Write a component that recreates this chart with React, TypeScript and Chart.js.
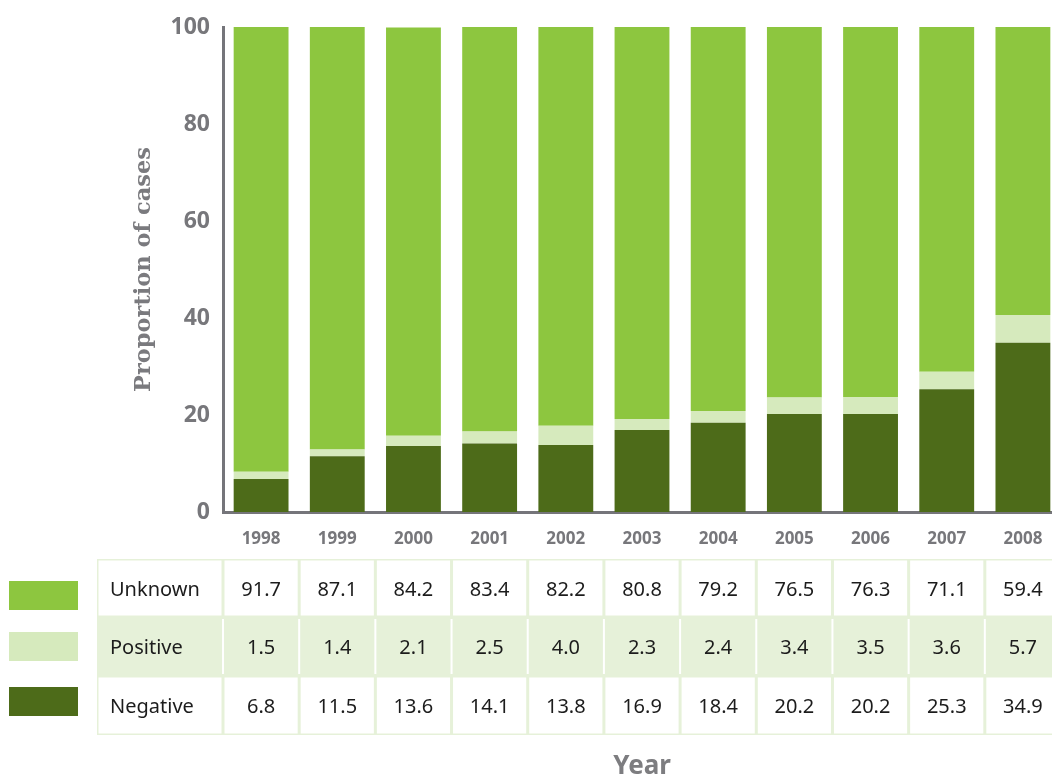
import React, { useEffect, useRef } from "react";
import { Chart, registerables } from "chart.js";

Chart.register(...registerables);

const years = ["1998", "1999", "2000", "2001", "2002", "2003", "2004", "2005", "2006", "2007", "2008"];
const negative = [6.8, 11.5, 13.6, 14.1, 13.8, 16.9, 18.4, 20.2, 20.2, 25.3, 34.9];
const positive = [1.5, 1.4, 2.1, 2.5, 4.0, 2.3, 2.4, 3.4, 3.5, 3.6, 5.7];
const unknown = [91.7, 87.1, 84.2, 83.4, 82.2, 80.8, 79.2, 76.5, 76.3, 71.1, 59.4];
const yTicks = [0, 20, 40, 60, 80, 100];

const COLORS = {
  unknown: "#8dc63f",
  positive: "#d6eabd",
  negative: "#4d6b19",
  axis: "#75757a",
  tick: "#77777b",
  tableBorder: "#e6f1d9",
  text: "#1c1c1c",
};

// Rows of the data table beneath the plot, top to bottom.
const tableRows = [
  { name: "Unknown", values: unknown, color: COLORS.unknown },
  { name: "Positive", values: positive, color: COLORS.positive },
  { name: "Negative", values: negative, color: COLORS.negative },
];

const CANVAS_W = 1070;
const CANVAS_H = 782;

// Draws the legend swatches and the value table aligned with the x categories.
const dataTablePlugin = {
  id: "dataTable",
  afterDraw(chart: any) {
    const { ctx } = chart;
    const x = chart.scales.x;
    const n = years.length;
    const half = (x.getPixelForValue(1) - x.getPixelForValue(0)) / 2;
    const edges = [97];
    for (let i = 0; i < n; i++) edges.push(x.getPixelForValue(i) - half);
    edges.push(x.getPixelForValue(n - 1) + half);
    const rowEdges = [559, 617, 676, 735];
    const swatchTops = [581, 632, 687];

    ctx.save();
    ctx.fillStyle = COLORS.tableBorder;
    ctx.fillRect(edges[0], rowEdges[0], CANVAS_W - edges[0], rowEdges[3] - rowEdges[0]);

    tableRows.forEach((row, r) => {
      const top = rowEdges[r];
      const bottom = rowEdges[r + 1];
      ctx.fillStyle = "#ffffff";
      if (r === 1) {
        for (let c = 1; c < edges.length - 1; c++) {
          ctx.fillRect(edges[c] - 1, top + 2, 2, bottom - top - 4);
        }
      } else {
        for (let c = 0; c < edges.length - 1; c++) {
          ctx.fillRect(edges[c] + 1.5, top + 1.5, edges[c + 1] - edges[c] - 3, bottom - top - 3);
        }
      }
      const cy = (top + bottom) / 2 + 2;
      ctx.fillStyle = COLORS.text;
      ctx.font = "20px 'Noto Sans'";
      ctx.textBaseline = "middle";
      ctx.textAlign = "left";
      ctx.fillText(row.name, 110, cy);
      ctx.textAlign = "center";
      row.values.forEach((v, i) => {
        ctx.fillText(v.toFixed(1), x.getPixelForValue(i), cy);
      });

      ctx.fillStyle = row.color;
      ctx.fillRect(9, swatchTops[r], 69, 29);
    });
    ctx.restore();
  },
};

export default function App() {
  const canvasRef = useRef<HTMLCanvasElement | null>(null);

  useEffect(() => {
    if (!canvasRef.current) return;
    const chart = new Chart(canvasRef.current, {
      type: "bar",
      data: {
        labels: years,
        datasets: [
          { label: "Negative", data: negative, backgroundColor: COLORS.negative },
          { label: "Positive", data: positive, backgroundColor: COLORS.positive },
          { label: "Unknown", data: unknown, backgroundColor: COLORS.unknown },
        ],
      },
      options: {
        responsive: false,
        animation: false,
        layout: { padding: { top: 27, right: 9, left: 0, bottom: 0 } },
        datasets: {
          bar: { categoryPercentage: 1, barPercentage: 0.72 },
        },
        plugins: {
          legend: { display: false },
          tooltip: { enabled: false },
        },
        scales: {
          x: {
            stacked: true,
            grid: { display: false, drawTicks: false },
            border: { display: true, color: COLORS.axis, width: 3 },
            ticks: {
              color: COLORS.tick,
              padding: 17,
              font: { family: "'Noto Sans'", size: 17, weight: "bold" },
            },
            title: {
              display: true,
              text: "Year",
              color: "#7d7d80",
              padding: { top: 0, bottom: 0 },
              font: { family: "'Noto Sans'", size: 26, weight: "bold" },
            },
            afterFit(scale: any) {
              scale.height = 270;
            },
          },
          y: {
            stacked: true,
            min: 0,
            max: 100,
            grid: { display: false, drawTicks: false },
            border: { display: true, color: COLORS.axis, width: 3 },
            afterBuildTicks(scale: any) {
              scale.ticks = yTicks.map((v) => ({ value: v }));
            },
            ticks: {
              color: COLORS.tick,
              padding: 13,
              font: { family: "'Noto Sans'", size: 23, weight: "bold" },
            },
            title: {
              display: true,
              text: "Proportion of cases",
              color: "#7a7a7e",
              padding: { top: 131, bottom: 0 },
              font: { family: "'DejaVu Serif'", size: 22.5, weight: "bold" },
            },
            afterFit(scale: any) {
              scale.width = 223;
            },
          },
        },
      },
      plugins: [dataTablePlugin],
    });
    return () => chart.destroy();
  }, []);

  return (
    <div
      style={{
        position: "fixed",
        left: 0,
        top: 0,
        width: 1052,
        height: 782,
        overflow: "hidden",
        background: "#ffffff",
      }}
    >
      <canvas
        ref={canvasRef}
        width={CANVAS_W}
        height={CANVAS_H}
        style={{ position: "absolute", left: 0, top: 0, width: CANVAS_W, height: CANVAS_H }}
      />
    </div>
  );
}
